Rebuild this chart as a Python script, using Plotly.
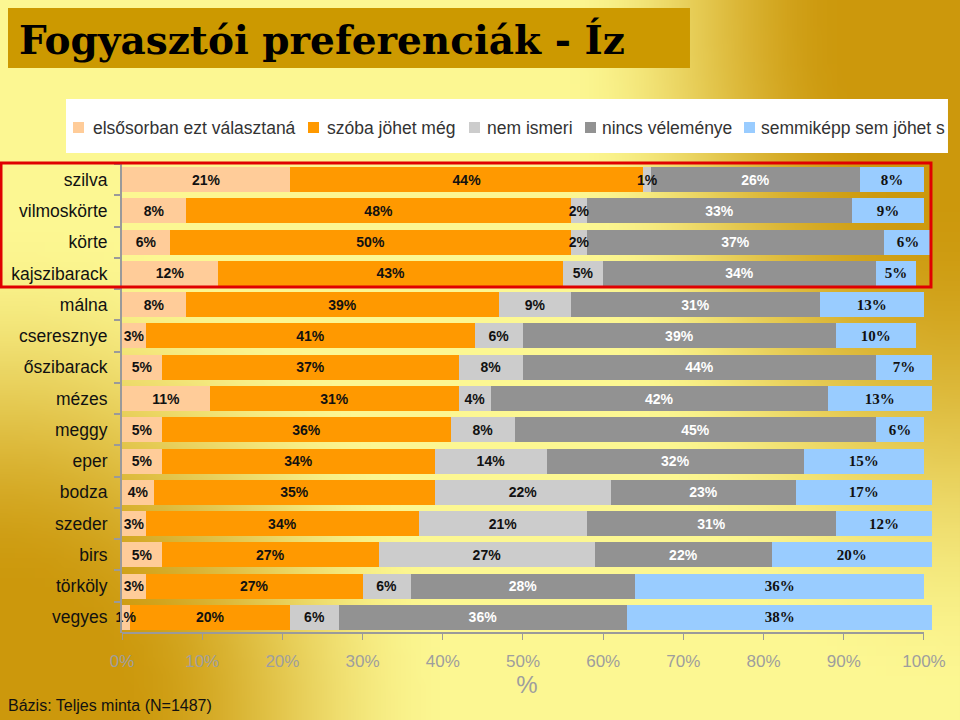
import base64
import math
import struct
import zlib

import plotly.graph_objects as go

# ---------------- data ----------------
categories = ["szilva", "vilmoskörte", "körte", "kajszibarack", "málna",
              "cseresznye", "őszibarack", "mézes", "meggy", "eper",
              "bodza", "szeder", "birs", "törköly", "vegyes"]

series_names = ["elsősorban ezt választaná", "szóba jöhet még", "nem ismeri",
                "nincs véleménye", "semmiképp sem jöhet s"]

elsosorban = [21, 8, 6, 12, 8, 3, 5, 11, 5, 5, 4, 3, 5, 3, 1]
szoba = [44, 48, 50, 43, 39, 41, 37, 31, 36, 34, 35, 34, 27, 27, 20]
nem_ismeri = [1, 2, 2, 5, 9, 6, 8, 4, 8, 14, 22, 21, 27, 6, 6]
nincs_velemenye = [26, 33, 37, 34, 31, 39, 44, 42, 45, 32, 23, 31, 22, 28, 36]
semmikepp = [8, 9, 6, 5, 13, 10, 7, 13, 6, 15, 17, 12, 20, 36, 38]

x_ticks = [0, 10, 20, 30, 40, 50, 60, 70, 80, 90, 100]

series_values = [elsosorban, szoba, nem_ismeri, nincs_velemenye, semmikepp]
colors = ["#FFCC99", "#FF9900", "#CCCCCC", "#929292", "#99CCFF"]
text_colors = ["#111111", "#111111", "#111111", "#FFFFFF", "#111111"]
text_fonts = ["Liberation Sans, Arial", "Liberation Sans, Arial", "Liberation Sans, Arial",
              "Liberation Sans, Arial", "Liberation Serif, Times New Roman"]
text_sizes = [14, 14, 14, 14, 15]

# ---------------- layout geometry (pixels) ----------------
W, H = 960, 720
X_MAX = 101                      # a few rows sum to 101 %
PL, PT, PB = 122, 164, 633
PX_PER_UNIT = (924 - 122) / 100
PR = PL + X_MAX * PX_PER_UNIT


def px(x):
    return (x - PL) / (PR - PL)


def py(y):
    return (PB - y) / (PB - PT)


# ---------------- background gradient image ----------------
def smooth(v):
    v = max(0.0, min(1.0, v))
    return v * v * (3 - 2 * v)


def gradient_png(w, h):
    light = (252, 247, 146)
    dark = (204, 152, 12)
    sx, sy = W / (w - 1), H / (h - 1)
    raw = bytearray()
    for j in range(h):
        raw.append(0)
        for i in range(w):
            X, Y = i * sx, j * sy
            d1 = math.hypot((X - W) * 1.4, Y * 0.8)      # top-right corner
            d2 = math.hypot(X * 1.1, (Y - H) * 1.0)      # bottom-left corner
            t = max(smooth((560 - d1) / 410), smooth((500 - d2) / 380))
            for k in range(3):
                raw.append(int(round(light[k] + (dark[k] - light[k]) * t)))

    def chunk(tag, data):
        return (struct.pack(">I", len(data)) + tag + data +
                struct.pack(">I", zlib.crc32(tag + data) & 0xFFFFFFFF))

    png = b"\x89PNG\r\n\x1a\n"
    png += chunk(b"IHDR", struct.pack(">IIBBBBB", w, h, 8, 2, 0, 0, 0))
    png += chunk(b"IDAT", zlib.compress(bytes(raw), 9))
    png += chunk(b"IEND", b"")
    return "data:image/png;base64," + base64.b64encode(png).decode()


fig = go.Figure()

# coloured bars
for name, vals, col in zip(series_names, series_values, colors):
    fig.add_trace(go.Bar(
        y=categories, x=vals, name=name, orientation="h",
        marker=dict(color=col, line=dict(width=0)),
        hoverinfo="skip", xaxis="x", yaxis="y",
    ))

# value labels on an overlaid subplot so they are drawn above every bar
for name, vals, tcol, tfont, tsize in zip(series_names, series_values,
                                          text_colors, text_fonts, text_sizes):
    fig.add_trace(go.Bar(
        y=categories, x=vals, name=name, orientation="h", showlegend=False,
        marker=dict(color="rgba(0,0,0,0)", line=dict(width=0)),
        text=[f"{v}%" for v in vals],
        textposition="inside", insidetextanchor="middle", textangle=0,
        constraintext="none",
        textfont=dict(color=tcol, family=tfont, size=tsize, weight="bold"),
        cliponaxis=False, hoverinfo="skip", xaxis="x2", yaxis="y2",
    ))

# ---------------- custom legend (boxed, clipped at right like the reference) ----------------
legend_swatch_x = [73, 308, 469, 585, 744]
legend_text_x = [91, 325, 485, 600, 759]
shapes = [
    # title box
    dict(type="rect", xref="paper", yref="paper", x0=px(8), x1=px(690), y0=py(8), y1=py(68),
         fillcolor="#CC9900", line=dict(width=0), layer="below"),
    # legend box
    dict(type="rect", xref="paper", yref="paper", x0=px(66), x1=px(948), y0=py(99), y1=py(153),
         fillcolor="#FFFFFF", line=dict(width=0), layer="below"),
    # x axis line (0 % .. 100 %)
    dict(type="line", xref="x", yref="paper", x0=0, x1=100, y0=0, y1=0,
         line=dict(color="#9A9A9A", width=2), layer="above"),
    # red highlight frame
    dict(type="rect", xref="paper", yref="paper", x0=px(1), x1=px(931), y0=py(163), y1=py(287),
         fillcolor="rgba(0,0,0,0)", line=dict(color="#E00000", width=3), layer="above"),
]
annotations = [
    dict(text="<b>Fogyasztói preferenciák - Íz</b>", xref="paper", yref="paper",
         x=px(17), y=py(40), xanchor="left", yanchor="middle", showarrow=False,
         font=dict(family="DejaVu Serif", size=39, color="#000000")),
    dict(text="Bázis: Teljes minta (N=1487)", xref="paper", yref="paper",
         x=px(6), y=py(705), xanchor="left", yanchor="middle", showarrow=False,
         font=dict(family="Liberation Sans, Arial", size=16, color="#111111")),
]
for name, col, sx, tx in zip(series_names, colors, legend_swatch_x, legend_text_x):
    shapes.append(dict(type="rect", xref="paper", yref="paper", x0=px(sx), x1=px(sx + 11),
                       y0=py(122), y1=py(133), fillcolor=col, line=dict(width=0), layer="below"))
    annotations.append(dict(text=name, xref="paper", yref="paper", x=px(tx), y=py(128),
                            xanchor="left", yanchor="middle", showarrow=False,
                            font=dict(family="Liberation Sans, Arial", size=17.5, color="#333333")))

fig.update_layout(
    width=W, height=H,
    margin=dict(l=PL, r=W - PR, t=PT, b=H - PB, autoexpand=False, pad=0),
    barmode="stack", bargap=0.2,
    paper_bgcolor="#E8D070", plot_bgcolor="rgba(0,0,0,0)",
    showlegend=False,
    xaxis=dict(range=[0, X_MAX], tickvals=x_ticks, ticktext=[f"{t}%" for t in x_ticks],
               showgrid=False, zeroline=False, showline=False,
               ticks="outside", ticklen=6, tickcolor="#9A9A9A", tickwidth=1,
               ticklabelstandoff=7,
               tickfont=dict(family="Liberation Sans, Arial", size=17, color="#9E9E9E"),
               title=dict(text="%", font=dict(family="Liberation Sans, Arial", size=24,
                                              color="#9E9E9E"), standoff=2)),
    yaxis=dict(categoryorder="array", categoryarray=categories, autorange="reversed",
               showgrid=False, zeroline=False, showline=True, linecolor="#9A9A9A", linewidth=2,
               ticks="outside", ticklen=6, tickcolor="#9A9A9A", tickwidth=2, tickson="boundaries",
               ticklabelstandoff=9,
               tickfont=dict(family="Liberation Sans, Arial", size=17.5, color="#111111")),
    xaxis2=dict(overlaying="x", range=[0, X_MAX], visible=False, showgrid=False, zeroline=False),
    yaxis2=dict(overlaying="y", categoryorder="array", categoryarray=categories,
                autorange="reversed", visible=False, showgrid=False, zeroline=False),
    images=[dict(source=gradient_png(97, 73), xref="paper", yref="paper",
                 x=px(0), y=py(0), sizex=W / (PR - PL), sizey=H / (PB - PT),
                 xanchor="left", yanchor="top", sizing="stretch", layer="below")],
    shapes=shapes,
    annotations=annotations,
)

fig.write_html("out.html", config={"displayModeBar": False},
               post_script="document.body.style.margin='0';"
                           "document.documentElement.style.margin='0';")
